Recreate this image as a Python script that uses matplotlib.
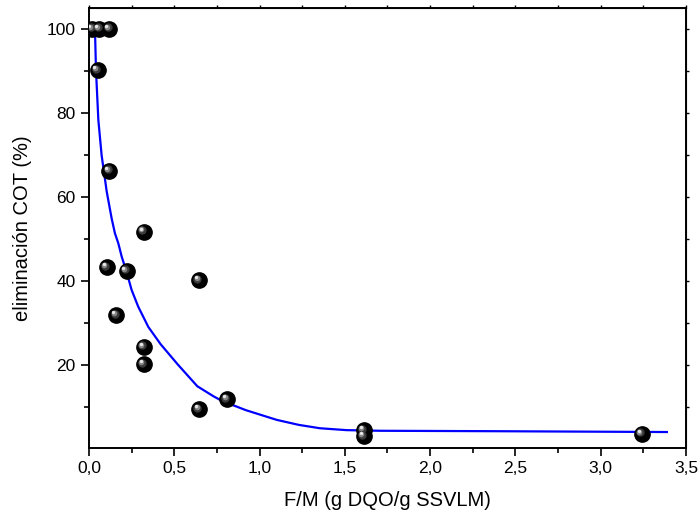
import matplotlib.pyplot as plt
from matplotlib.ticker import FixedLocator, FuncFormatter
from matplotlib.transforms import offset_copy

plt.rcParams['font.family'] = ['Liberation Sans', 'DejaVu Sans']

# Datos experimentales
fm = [0.02, 0.06, 0.12, 0.05, 0.12, 0.105, 0.22, 0.32, 0.16, 0.32, 0.32,
      0.645, 0.645, 0.81, 1.61, 1.61, 3.24]
cot = [100, 100, 100, 90.2, 66.2, 43.3, 42.4, 51.7, 31.9, 24.3, 20.2,
       40.2, 9.5, 11.9, 4.5, 3.1, 3.6]

# Curva de ajuste
fit_x = [0.035, 0.041, 0.055, 0.074, 0.104, 0.133, 0.152, 0.172, 0.192, 0.211,
         0.230, 0.250, 0.289, 0.348, 0.42, 0.52, 0.635, 0.73, 0.78, 0.92,
         1.10, 1.23, 1.354, 1.51, 1.706, 2.368, 3.388]
fit_y = [100.2, 90.2, 78.3, 70.0, 61.3, 54.9, 51.4, 49.0, 45.8, 43.4,
         40.8, 37.9, 33.9, 29.1, 25.0, 20.2, 15.0, 12.6, 11.5, 9.3,
         7.0, 5.8, 5.0, 4.55, 4.4, 4.3, 4.1]

fig = plt.figure(figsize=(6.99, 5.19), dpi=100)
ax = fig.add_axes([0.1273, 0.1368, 0.8541, 0.8478])

ax.plot(fit_x, fit_y, color='#0000ff', lw=1.6, zorder=2, solid_joinstyle='round')

# Esferas negras con brillo
ax.plot(fm, cot, 'o', ms=11, color='black', mec='black', zorder=3)
for dx, dy, s, c in [(-1.2, 1.2, 6, '#3a3a3a'), (-1.8, 1.8, 4, '#858585'),
                     (-2.2, 2.2, 2.4, '#e6e6e6')]:
    tr = offset_copy(ax.transData, fig=fig, x=dx, y=dy, units='points')
    ax.plot(fm, cot, 'o', ms=s, color=c, mew=0, transform=tr, zorder=4)

ax.set_xlim(0, 3.5)
ax.set_ylim(0.3, 105)
ax.xaxis.set_major_locator(FixedLocator([0, 0.5, 1, 1.5, 2, 2.5, 3, 3.5]))
ax.xaxis.set_minor_locator(FixedLocator([0.25, 0.75, 1.25, 1.75, 2.25, 2.75, 3.25]))
ax.yaxis.set_major_locator(FixedLocator([20, 40, 60, 80, 100]))
ax.yaxis.set_minor_locator(FixedLocator([10, 30, 50, 70, 90]))
ax.xaxis.set_major_formatter(FuncFormatter(lambda v, p: f'{v:.1f}'.replace('.', ',')))

ax.tick_params(which='major', direction='out', length=6, width=1.2, labelsize=12.5)
ax.tick_params(which='minor', direction='out', length=3.5, width=1.2)
for sp in ax.spines.values():
    sp.set_linewidth(1.4)

# Ejes superior y derecho con marcas pequenas
top = ax.secondary_xaxis('top')
top.xaxis.set_major_locator(FixedLocator([0.25 * i for i in range(15)]))
top.tick_params(length=2, width=1, labeltop=False)
right = ax.secondary_yaxis('right')
right.yaxis.set_major_locator(FixedLocator([10 * i for i in range(1, 11)]))
right.tick_params(length=2, width=1, labelright=False)

ax.set_xlabel('F/M (g DQO/g SSVLM)', fontsize=14.5, labelpad=11)
ax.set_ylabel('eliminación COT (%)', fontsize=14.5, labelpad=11)

fig.savefig('out.png', dpi=100)
